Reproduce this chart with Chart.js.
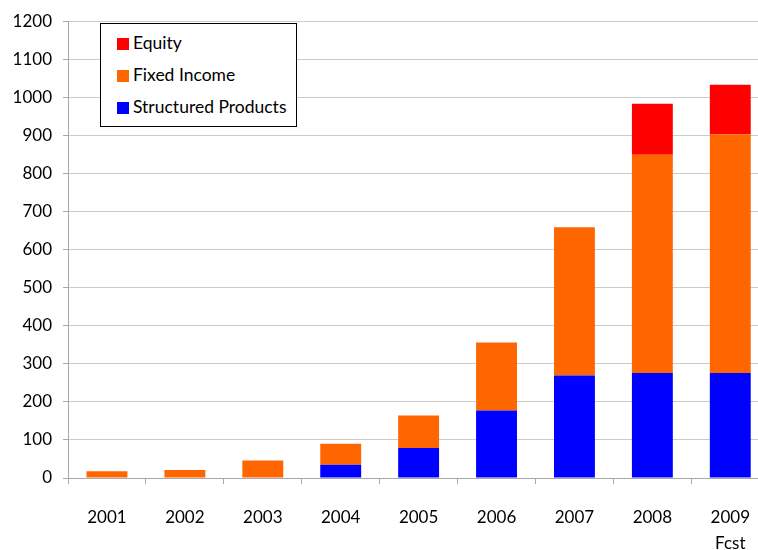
<!DOCTYPE html>
<html>
<head>
<meta charset="utf-8">
<script src="https://cdn.jsdelivr.net/npm/chart.js@4"></script>
<style>
  html, body { margin: 0; padding: 0; background: #fff; overflow: hidden; }
  #wrap { position: relative; width: 770px; height: 550px; }
  #legend {
    position: absolute; left: 100px; top: 23px; width: 195px; height: 102px;
    border: 1px solid #000; background: #fff; font-family: Lato, sans-serif; font-size: 17.5px; color: #000;
  }
  #legend div { position: absolute; left: 16px; height: 20px; line-height: 20px; white-space: nowrap; }
  #legend span { display: inline-block; width: 12px; height: 12px; margin-right: 4px; vertical-align: -1px; }
</style>
</head>
<body>
<div id="wrap">
  <canvas id="grafico" width="770" height="550"></canvas>
  <div id="legend"></div>
</div>
<script>
const years = ['2001', '2002', '2003', '2004', '2005', '2006', '2007', '2008', ['2009', 'Fcst']];
const structured = [0, 0, 0, 35, 79, 177, 269, 276, 276];
const fixedIncome = [18, 21, 46, 55, 85, 179, 390, 573, 627];
const equity = [0, 0, 0, 0, 0, 0, 0, 134, 130];
const yTicks = [0, 100, 200, 300, 400, 500, 600, 700, 800, 900, 1000, 1100, 1200];

const series = [
    { label: 'Structured Products', data: structured, color: '#0000ff' },
    { label: 'Fixed Income', data: fixedIncome, color: '#ff6600' },
    { label: 'Equity', data: equity, color: '#ff0000' }
];

const ctx = document.getElementById('grafico').getContext('2d');
const chart = new Chart(ctx, {
    type: 'bar',
    data: {
        labels: years,
        datasets: series.map(s => ({
            label: s.label,
            data: s.data,
            backgroundColor: s.color,
            borderWidth: 0,
            barPercentage: 0.525,
            categoryPercentage: 1
        }))
    },
    options: {
        responsive: false,
        animation: false,
        layout: { padding: { top: 14, right: 0, left: 0, bottom: 0 } },
        plugins: {
            legend: { display: false },
            tooltip: { enabled: false }
        },
        scales: {
            x: {
                stacked: true,
                afterFit: s => { s.height = 72; },
                grid: {
                    offset: true,
                    drawOnChartArea: false,
                    tickLength: 6,
                    color: '#a8a8a8'
                },
                border: { color: '#a8a8a8', width: 1 },
                ticks: {
                    padding: 20,
                    color: '#000',
                    font: { family: 'Lato', size: 17, lineHeight: 1.55 },
                    maxRotation: 0
                }
            },
            y: {
                stacked: true,
                min: 0,
                max: 1200,
                afterFit: s => { s.width = 68; },
                afterBuildTicks: s => {
                    const t = [];
                    for (let v = 0; v <= 1200; v += 50) t.push({ value: v });
                    s.ticks = t;
                },
                grid: {
                    color: '#cbcbcb',
                    tickLength: 5,
                    tickColor: c => (c.tick && c.tick.value % 100 === 0) ? '#a8a8a8' : 'rgba(0,0,0,0)'
                },
                border: { color: '#a8a8a8', width: 1 },
                ticks: {
                    padding: 11,
                    color: '#000',
                    font: { family: 'Lato', size: 17 },
                    callback: v => yTicks.includes(v) ? String(v) : ''
                }
            }
        }
    }
});

// legend box, top entry first like the original
const legend = document.getElementById('legend');
series.slice().reverse().forEach((s, i) => {
    const row = document.createElement('div');
    row.style.top = (9 + i * 32) + 'px';
    row.innerHTML = '<span style="background:' + s.color + '"></span>' + s.label;
    legend.appendChild(row);
});
</script>
</body>
</html>
